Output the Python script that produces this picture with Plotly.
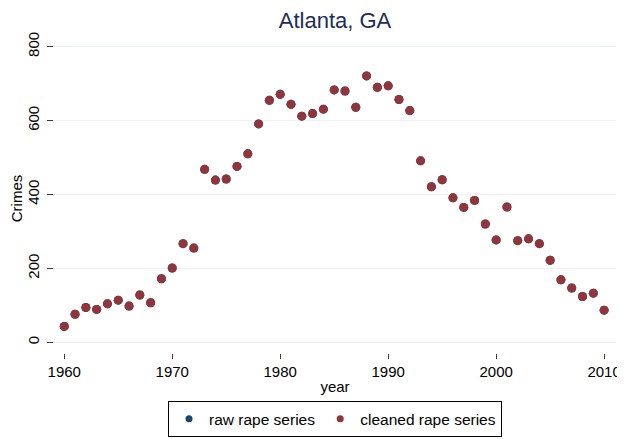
"""
Atlanta, GA rape series: raw vs cleaned
"""
import plotly.graph_objects as go

years = list(range(1960, 2011))
raw_rape = [43, 76, 94, 89, 104, 114, 98, 128, 107, 172,
            201, 267, 255, 468, 439, 442, 476, 510, 591, 655,
            671, 644, 612, 619, 631, 683, 680, 636, 721, 690,
            694, 657, 627, 491, 421, 440, 391, 365, 384, 320,
            277, 366, 275, 280, 267, 222, 169, 147, 124, 133,
            87]
cleaned_rape = list(raw_rape)

y_ticks = [0, 200, 400, 600, 800]
x_ticks = [1960, 1970, 1980, 1990, 2000, 2010]

navy = 'rgb(26, 71, 111)'
maroon = 'rgb(144, 53, 59)'
grid = 'rgb(234, 242, 243)'

# page body has an 8px margin, so the figure is a bit smaller than the window
fig_w, fig_h = 617, 431

fig = go.Figure()

# data points (raw sits underneath the cleaned series)
fig.add_trace(go.Scatter(x = years, y = raw_rape,
                         mode = 'markers',
                         name = 'raw rape series',
                         showlegend = False,
                         marker = dict(color = navy, size = 9, line = dict(width = 0))))
fig.add_trace(go.Scatter(x = years, y = cleaned_rape,
                         mode = 'markers',
                         name = 'cleaned rape series',
                         showlegend = False,
                         marker = dict(color = maroon, size = 9, line = dict(width = 0))))

# legend entries with smaller symbols
fig.add_trace(go.Scatter(x = [None], y = [None], mode = 'markers', name = 'raw rape series',
                         marker = dict(color = navy, size = 7)))
fig.add_trace(go.Scatter(x = [None], y = [None], mode = 'markers', name = 'cleaned rape series',
                         marker = dict(color = maroon, size = 7)))

fig.update_layout(
    width = fig_w,
    height = fig_h,
    autosize = False,
    margin = dict(l = 46, r = 9, t = 36, b = 86, autoexpand = False),
    paper_bgcolor = 'white',
    plot_bgcolor = 'white',
    font = dict(family = 'Liberation Sans, Arial', size = 15, color = 'black'),
    title = dict(text = 'Atlanta, GA', xref = 'paper', x = 0.5, xanchor = 'center', y = 0.972, yanchor = 'middle',
                 font = dict(size = 22, color = 'rgb(30, 45, 88)')),
    legend = dict(orientation = 'h', x = 0.5, xanchor = 'center', y = -0.156, yanchor = 'top',
                  bordercolor = 'black', borderwidth = 1, font = dict(size = 15.5),
                  itemsizing = 'trace'),
    showlegend = True)

fig.update_xaxes(range = [1959.05, 2011.1], tickvals = x_ticks, showgrid = False, zeroline = False,
                 showline = False, ticks = 'outside', ticklen = 5, tickwidth = 1, tickcolor = 'rgb(60, 60, 60)',
                 tickfont = dict(size = 15), automargin = False,
                 title = dict(text = 'year', standoff = 2, font = dict(size = 15)))
fig.update_yaxes(range = [-29, 807.3], tickvals = y_ticks, showgrid = True, gridcolor = grid, gridwidth = 1.2,
                 zeroline = False, showline = False, ticks = 'outside', ticklen = 6, tickwidth = 1,
                 tickcolor = 'rgb(60, 60, 60)', tickangle = -90, ticklabelstandoff = 2,
                 tickfont = dict(size = 15), automargin = False,
                 title = dict(text = 'Crimes', standoff = 0, font = dict(size = 15)))

fig.write_html("out.html")
